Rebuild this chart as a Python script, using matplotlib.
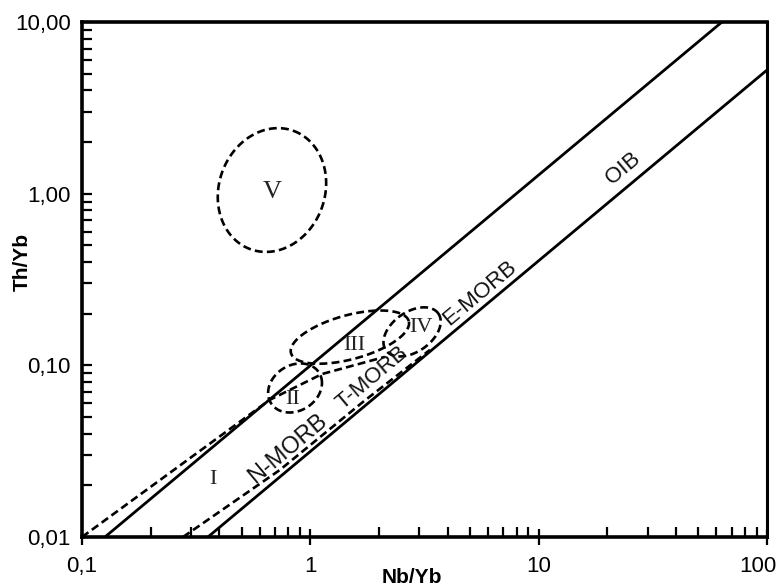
import numpy as np
import matplotlib
matplotlib.use("Agg")
import matplotlib.pyplot as plt
import matplotlib.transforms as mtransforms
from matplotlib.ticker import FixedLocator, FuncFormatter, LogLocator, NullFormatter

plt.rcParams['font.family'] = ['Liberation Sans', 'DejaVu Sans']

# ---- data ----
# MORB-OIB array boundaries (solid)
upper_line_x = [0.126, 63.5]
upper_line_y = [0.01, 10.0]
lower_line_x = [0.356, 100.0]
lower_line_y = [0.01, 5.25]

# Field I boundaries (dashed)
field1_upper_x = [0.1, 0.665, 1.125, 2.12]
field1_upper_y = [0.01, 0.063, 0.089, 0.112]
field1_lower_x = [0.277, 0.736, 1.70, 3.34]
field1_lower_y = [0.01, 0.0246, 0.0612, 0.123]

# Elliptic fields: centre (data) and conjugate semi-axis vectors (in decades)
ell_names = ['II', 'III', 'IV', 'V']
ell_cx = [0.857, 1.49, 2.79, 0.679]
ell_cy = [0.0738, 0.146, 0.1566, 1.05]
ell_u = [(0.118, 0.029), (0.258, 0.093), (0.115, 0.107), (0.094, 0.345)]
ell_v = [(0.0, 0.14), (-0.025, 0.124), (-0.050, 0.095), (0.218, -0.105)]

# Field labels
roman_labels = ['I', 'II', 'III', 'IV', 'V']
roman_x = [0.375, 0.832, 1.55, 3.05, 0.679]
roman_y = [0.0215, 0.063, 0.130, 0.165, 1.02]

array_labels = ['N-MORB', 'T-MORB', 'E-MORB', 'OIB']
array_x = [0.798, 1.86, 5.53, 23.4]
array_y = [0.0326, 0.0845, 0.264, 1.41]

x_ticks = [0.1, 1, 10, 100]
x_ticklabels = ['0,1', '1', '10', '100']
y_ticks = [0.01, 0.1, 1, 10]
y_ticklabels = ['0,01', '0,10', '1,00', '10,00']

# ---- figure ----
fig = plt.figure(figsize=(7.82, 5.87), dpi=100)
ax = fig.add_axes([0.1049, 0.0852, 0.8759, 0.8773])
ax.set_xscale('log')
ax.set_yscale('log')
ax.set_xlim(0.1, 100)
ax.set_ylim(0.01, 10)

lw_solid = 2.0
ax.plot(upper_line_x, upper_line_y, color='black', lw=lw_solid, solid_capstyle='butt')
ax.plot(lower_line_x, lower_line_y, color='black', lw=lw_solid, solid_capstyle='butt')

dash = (0, (3.0, 1.6))
ax.plot(field1_upper_x, field1_upper_y, color='black', lw=1.9, linestyle=dash)
ax.plot(field1_lower_x, field1_lower_y, color='black', lw=1.9, linestyle=dash)

t = np.linspace(0, 2 * np.pi, 300)
for cx, cy, u, v in zip(ell_cx, ell_cy, ell_u, ell_v):
    lx = np.log10(cx) + u[0] * np.cos(t) + v[0] * np.sin(t)
    ly = np.log10(cy) + u[1] * np.cos(t) + v[1] * np.sin(t)
    ax.plot(10 ** lx, 10 ** ly, color='black', lw=1.9, linestyle=dash)

for lab, x, y in zip(roman_labels, roman_x, roman_y):
    fs = 19 if lab == 'V' else 16
    ax.text(x, y, lab, family=['Liberation Serif', 'DejaVu Serif'], fontsize=fs,
            ha='center', va='center', color='#222222')

for lab, x, y in zip(array_labels, array_x, array_y):
    fs = 17 if lab == 'N-MORB' else 16
    ax.text(x, y, lab, fontsize=fs, rotation=40, rotation_mode='anchor',
            ha='center', va='center', color='#111111')

# ticks
ax.xaxis.set_major_locator(FixedLocator(x_ticks))
ax.yaxis.set_major_locator(FixedLocator(y_ticks))
ax.xaxis.set_major_formatter(FuncFormatter(lambda v, p: x_ticklabels[x_ticks.index(v)] if v in x_ticks else ''))
ax.yaxis.set_major_formatter(FuncFormatter(lambda v, p: y_ticklabels[y_ticks.index(v)] if v in y_ticks else ''))
ax.xaxis.set_minor_locator(LogLocator(base=10, subs=np.arange(2, 10)))
ax.yaxis.set_minor_locator(LogLocator(base=10, subs=np.arange(2, 10)))
ax.xaxis.set_minor_formatter(NullFormatter())
ax.yaxis.set_minor_formatter(NullFormatter())

ax.tick_params(axis='x', which='major', direction='inout', length=12, width=1.6,
               labelsize=16, pad=8, top=False)
ax.tick_params(axis='x', which='minor', direction='in', length=7, width=1.6, top=False)
ax.tick_params(axis='y', which='major', direction='in', length=7, width=1.6,
               labelsize=16, pad=8, right=False)
ax.tick_params(axis='y', which='minor', direction='in', length=7, width=1.6, right=False)

for side in ['left', 'bottom', 'top']:
    ax.spines[side].set_linewidth(2.6)
ax.spines['right'].set_linewidth(2.2)

ax.set_xlabel('Nb/Yb', fontsize=15, fontweight='bold', va='center')
ax.xaxis.set_label_coords(0.482, -0.078)
ax.set_ylabel('Th/Yb', fontsize=15, fontweight='bold', va='center')
ax.yaxis.set_label_coords(-0.088, 0.534)

# keep the last x tick label ("100") inside the figure, as in the reference
fig.canvas.draw()
last = ax.xaxis.get_major_ticks()[-1].label1
last.set_horizontalalignment('right')
last.set_transform(last.get_transform() +
                   mtransforms.ScaledTranslation(10 / 100, 0, fig.dpi_scale_trans))

fig.savefig('out.png', dpi=100)
